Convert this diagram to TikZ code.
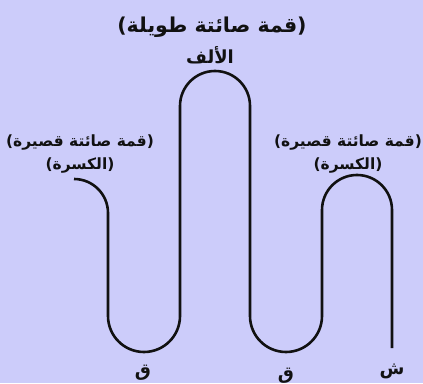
\documentclass[tikz,border=0pt]{standalone}
\usepackage{fontspec}
\TeXXeTstate=1
\newfontfamily\arabicfont[Script=Arabic]{DejaVu Sans}
\newfontfamily\parenfont{DejaVu Sans}
\newcommand{\lp}{{\parenfont(}}
\newcommand{\rp}{{\parenfont)}}
\definecolor{bgcol}{HTML}{CCCCFA}
\definecolor{ink}{HTML}{111111}
\begin{document}
\begin{tikzpicture}[x=1pt,y=1pt,
  lbl/.style={text=ink,font=\arabicfont\bfseries\fontsize{15.5}{17}\selectfont,inner sep=0pt},
  big/.style={lbl,font=\arabicfont\bfseries\fontsize{18}{20}\selectfont},
  huge/.style={lbl,font=\arabicfont\bfseries\fontsize{20.5}{22}\selectfont},
  wave/.style={draw=ink,line width=2.6pt,line join=round}]
\fill[bgcol] (0,0) rectangle (423,383);
\useasboundingbox (0,0) rectangle (423,383);
\draw[wave] (74,204) arc[start angle=90,end angle=0,radius=34]
  -- (108,67) arc[start angle=180,end angle=360,radius=36]
  -- (180,277) arc[start angle=180,end angle=0,radius=35]
  -- (250,67) arc[start angle=180,end angle=360,radius=36]
  -- (322,173) arc[start angle=180,end angle=0,radius=35]
  -- (392,35);
\node[huge] (top) at (212,356) {\lp\beginR قمة صائتة طويلة\endR\rp};
\node[big] (alif) at (210,328) {\beginR الألف\endR};
\node[lbl] (lshort) at (80,240) {\lp\beginR قمة صائتة قصيرة\endR\rp};
\node[lbl] (lkasra) at (80,217) {\lp\beginR الكسرة\endR\rp};
\node[lbl] (rshort) at (348,240) {\lp\beginR قمة صائتة قصيرة\endR\rp};
\node[lbl] (rkasra) at (348,217) {\lp\beginR الكسرة\endR\rp};
\node[big] (q1) at (143,10) {\beginR ق\endR};
\node[big] (q2) at (286,7.5) {\beginR ق\endR};
\node[big] (sh) at (392,12) {\beginR ش\endR};
\end{tikzpicture}
\end{document}
